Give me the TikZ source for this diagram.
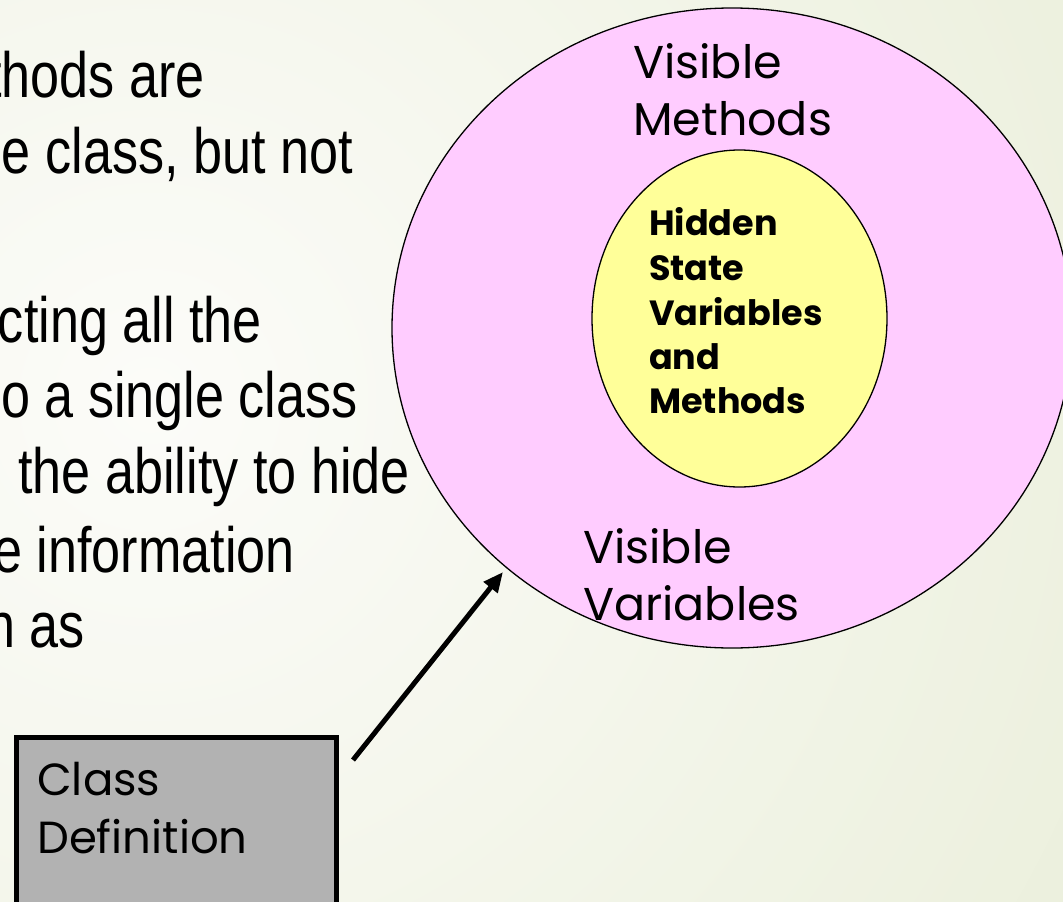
\documentclass[tikz,border=0pt]{standalone}
\usepackage{fontspec}
\setmainfont{Liberation Sans}
\newfontfamily\bodyfont[FakeStretch=0.815]{Liberation Sans}
\newfontfamily\gothic{Poppins}
\usetikzlibrary{shapes.geometric,arrows.meta}

\definecolor{bgin}{HTML}{FCFCF9}
\definecolor{bgout}{HTML}{DDE5C4}
\definecolor{ringpink}{HTML}{FFCCFF}
\definecolor{coreyellow}{HTML}{FFFF99}
\definecolor{boxgray}{HTML}{B2B2B2}

\tikzset{
  bodyline/.style={anchor=base east, inner sep=0pt, font=\bodyfont\fontsize{64}{76}\selectfont},
  ringlabel/.style={anchor=base west, inner sep=0pt, font=\gothic\fontsize{46}{57}\selectfont},
  corelabel/.style={anchor=base west, inner sep=0pt, font=\gothic\bfseries\fontsize{35}{45}\selectfont},
  boxlabel/.style={anchor=base west, inner sep=0pt, font=\gothic\fontsize{45}{58}\selectfont},
  ring/.style={ellipse, draw=black, line width=1.3pt, fill=ringpink, inner sep=0pt},
  core/.style={ellipse, draw=black, line width=1.3pt, fill=coreyellow, inner sep=0pt},
  classbox/.style={rectangle, draw=black, line width=5pt, fill=boxgray, inner sep=0pt},
  pointer/.style={line width=5pt, -{Triangle[length=20pt,width=17pt]}}
}

\begin{document}
\begin{tikzpicture}[x=1pt, y=-1pt]
  \useasboundingbox (0,0) rectangle (1063,902);
  \clip (0,0) rectangle (1063,902);

  % slide background
  \shade[inner color=bgin, outer color=bgout] (150,400) circle (2000);

  % body text of the slide
  \node[bodyline] (t1) at (205,97)  {thods are};
  \node[bodyline] (t2) at (353,173) {e class, but not};
  \node[bodyline] (t3) at (262,342) {cting all the};
  \node[bodyline] (t4) at (358,417) {o a single class};
  \node[bodyline] (t5) at (410,493) {the ability to hide};
  \node[bodyline] (t6) at (295,572) {e information};
  \node[bodyline] (t7) at (85,647)  {n as};

  % visible layer and hidden core
  \node[ring, minimum width=680pt, minimum height=640pt] (outer) at (732,328) {};
  \node[core, minimum width=295pt, minimum height=337pt] (inner) at (739.5,318.5) {};

  \node[ringlabel] (vm1) at (633,78)  {Visible};
  \node[ringlabel] (vm2) at (633,135) {Methods};
  \node[ringlabel] (vv1) at (583,563) {Visible};
  \node[ringlabel] (vv2) at (583,620) {Variables};

  \node[corelabel] (h1) at (649,235) {Hidden};
  \node[corelabel] (h2) at (649,280) {State};
  \node[corelabel] (h3) at (649,325) {Variables};
  \node[corelabel] (h4) at (649,369) {and};
  \node[corelabel] (h5) at (649,413) {Methods};

  % class definition box
  \node[classbox, minimum width=320pt, minimum height=300pt] (cls) at (176.5,887.5) {};
  \node[boxlabel] (c1) at (37,795) {Class};
  \node[boxlabel] (c2) at (37,853) {Definition};

  % pointer from the class to its visible layer
  \coordinate (ptail) at (353,760);
  \coordinate (ptip) at (503,572);
  \draw[pointer] (ptail) -- (ptip);
\end{tikzpicture}
\end{document}
